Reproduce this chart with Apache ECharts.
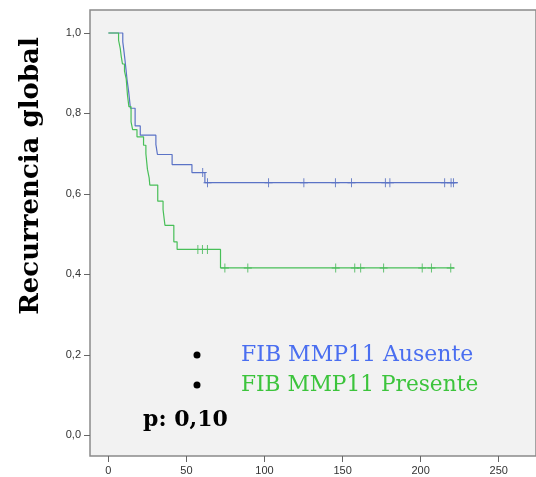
<!DOCTYPE html>
<html>
<head>
<meta charset="utf-8">
<script src="https://cdn.jsdelivr.net/npm/echarts@6/dist/echarts.min.js"></script>
<style>
  html, body { margin: 0; padding: 0; background: #fff; }
  #chart { width: 536px; height: 477px; }
</style>
</head>
<body>
<div id="chart"></div>
<script>
// tiempos de cada caída y supervivencia resultante
const tAusente = [0, 9.2, 10, 10.6, 11.3, 11.9, 13, 14.1, 17.1, 20.4, 30.4, 31.4, 40.8, 53.5, 61.8];
const sAusente = [1, 0.978, 0.953, 0.933, 0.908, 0.885, 0.853, 0.813, 0.769, 0.746, 0.723, 0.698, 0.673, 0.653, 0.628];
const finAusente = 223.8;
const censAusente = [60.4, 63.5, 102.6, 125.2, 145.4, 155.7, 177.4, 180.3, 215.4, 219.5, 221];

const tPresente = [0, 6.5, 7.6, 8.2, 9.0, 10.3, 11.4, 12.2, 13.1, 14.5, 15.5, 18.3, 22.5, 24, 25, 26.1, 26.5, 31.6, 35, 36.2, 41.9, 44, 71.8];
const sPresente = [1, 0.982, 0.961, 0.942, 0.923, 0.905, 0.886, 0.846, 0.817, 0.779, 0.76, 0.742, 0.721, 0.70, 0.661, 0.64, 0.622, 0.582, 0.561, 0.522, 0.481, 0.462, 0.416];
const finPresente = 221.4;
const censPresente = [57.3, 60.2, 63.4, 74.6, 89.3, 145.6, 157.8, 161.6, 176.3, 201, 206.9, 219.3];

const xTicks = [0, 50, 100, 150, 200, 250];
const yTicks = [0, 0.2, 0.4, 0.6, 0.8, 1.0];

const azul = '#5b73c6';
const verde = '#48bf58';

function curva(t, s, fin) {
  const d = t.map((v, i) => [v, s[i]]);
  d.push([fin, s[s.length - 1]]);
  return d;
}
// nivel de la curva en el tiempo de cada censura
function censuras(t, s, c) {
  return c.map((x) => {
    let y = s[0];
    for (let i = 0; i < t.length; i++) {
      if (t[i] <= x) y = s[i];
    }
    return [x, y];
  });
}

const cruz = 'path://M4,0h1v4h4v1h-4v4h-1v-4h-4v-1h4z';
const myChart = echarts.init(document.getElementById('chart'));

const option = {
  animation: false,
  backgroundColor: '#fff',
  grid: {
    left: 90,
    top: 10,
    right: -6,
    bottom: 21,
    show: true,
    backgroundColor: '#f2f2f2',
    borderColor: '#8a8a8a',
    borderWidth: 1.5,
  },
  xAxis: {
    type: 'value',
    min: -11.8,
    max: 273.9,
    axisLine: { show: false, onZero: false },
    splitLine: { show: false },
    axisTick: {
      show: true,
      length: 6,
      customValues: xTicks,
      lineStyle: { color: '#666' },
    },
    axisLabel: {
      customValues: xTicks,
      margin: 9,
      color: '#333',
      fontSize: 11,
      fontFamily: 'Liberation Sans',
    },
  },
  yAxis: {
    type: 'value',
    min: -0.0515,
    max: 1.0572,
    axisLine: { show: false, onZero: false },
    splitLine: { show: false },
    axisTick: {
      show: true,
      length: 6,
      customValues: yTicks,
      lineStyle: { color: '#666' },
    },
    axisLabel: {
      customValues: yTicks,
      margin: 9,
      color: '#333',
      fontSize: 11,
      fontFamily: 'Liberation Sans',
      formatter(v) {
        return v.toFixed(1).replace('.', ',');
      },
    },
  },
  series: [
    {
      name: 'FIB MMP11 Ausente',
      type: 'line',
      step: 'end',
      showSymbol: false,
      data: curva(tAusente, sAusente, finAusente),
      lineStyle: { color: azul, width: 1.2 },
      itemStyle: { color: azul },
    },
    {
      name: 'FIB MMP11 Presente',
      type: 'line',
      step: 'end',
      showSymbol: false,
      data: curva(tPresente, sPresente, finPresente),
      lineStyle: { color: verde, width: 1.2 },
      itemStyle: { color: verde },
    },
    {
      type: 'scatter',
      symbol: cruz,
      symbolSize: [8, 9],
      data: censuras(tAusente, sAusente, censAusente),
      itemStyle: { color: '#3a57b8' },
    },
    {
      type: 'scatter',
      symbol: cruz,
      symbolSize: [8, 9],
      data: censuras(tPresente, sPresente, censPresente),
      itemStyle: { color: '#2bae40' },
    },
  ],
  graphic: [
    {
      type: 'text',
      x: 31,
      y: 176,
      rotation: Math.PI / 2,
      style: {
        text: 'Recurrencia global',
        font: 'bold 26px "DejaVu Serif"',
        fill: '#000',
        textAlign: 'center',
        textVerticalAlign: 'middle',
      },
    },
    { type: 'circle', shape: { cx: 197, cy: 355, r: 3.5 }, style: { fill: '#000' } },
    { type: 'circle', shape: { cx: 197, cy: 385, r: 3.5 }, style: { fill: '#000' } },
    {
      type: 'text',
      x: 241,
      y: 355,
      style: {
        text: 'FIB MMP11 Ausente',
        font: '22px "DejaVu Serif"',
        fill: '#4a6ef0',
        textVerticalAlign: 'middle',
      },
    },
    {
      type: 'text',
      x: 241,
      y: 385,
      style: {
        text: 'FIB MMP11 Presente',
        font: '21.7px "DejaVu Serif"',
        fill: '#3cc43c',
        textVerticalAlign: 'middle',
      },
    },
    {
      type: 'text',
      x: 143,
      y: 420,
      style: {
        text: 'p: 0,10',
        font: 'bold 22px "DejaVu Serif"',
        fill: '#000',
        textVerticalAlign: 'middle',
      },
    },
  ],
};

myChart.setOption(option);
</script>
</body>
</html>
